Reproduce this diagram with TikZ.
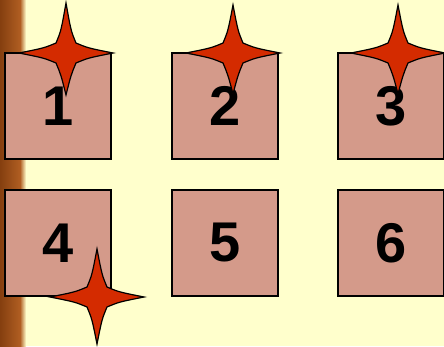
\documentclass[tikz,border=0pt]{standalone}
\usepackage{fontspec}
\setmainfont{Liberation Sans}
\definecolor{bg}{HTML}{FFFFCC}
\definecolor{boxfill}{HTML}{D49A8A}
\definecolor{starred}{HTML}{D42B00}
\definecolor{barbrown}{HTML}{9C4A12}
\definecolor{barlight}{HTML}{B05E22}
\tikzset{
  sq/.style={draw=black, line width=1.3pt, fill=boxfill, minimum width=106pt, minimum height=106pt, inner sep=0pt, font=\fontsize{56}{56}\selectfont\bfseries, anchor=center},
  starshape/.style={draw=black, line width=1.2pt, fill=starred, line join=miter}
}
\newcommand{\fourstar}[5]{% name, x, y, up, down
  \coordinate (#1) at (#2,#3);
  \draw[starshape] ($(#1)+(0,-#4)$) .. controls ($(#1)+(5,-22)$) .. ($(#1)+(10,-10)$)
    .. controls ($(#1)+(22,-5)$) .. ($(#1)+(47,0)$)
    .. controls ($(#1)+(22,5)$) .. ($(#1)+(10,10)$)
    .. controls ($(#1)+(5,22)$) .. ($(#1)+(0,#5)$)
    .. controls ($(#1)+(-5,22)$) .. ($(#1)+(-10,10)$)
    .. controls ($(#1)+(-22,5)$) .. ($(#1)+(-47,0)$)
    .. controls ($(#1)+(-22,-5)$) .. ($(#1)+(-10,-10)$)
    .. controls ($(#1)+(-5,-22)$) .. cycle;
}
\usetikzlibrary{calc}
\begin{document}
\begin{tikzpicture}[x=1pt,y=-1pt]
\useasboundingbox (0,0) rectangle (444,346);
\fill[bg] (0,0) rectangle (444,346);
\shade[left color=barbrown!85!black, right color=barlight] (0,0) rectangle (20,346);
\shade[left color=barlight, right color=bg] (20,0) rectangle (26,346);
\node[sq] (b1) at (58,106) {1};
\node[sq] (b2) at (225,106) {2};
\node[sq] (b3) at (391,106) {3};
\node[sq] (b4) at (58,243) {4};
\node[sq] (b5) at (225,243) {5};
\node[sq] (b6) at (391,243) {6};
\fourstar{s1}{66}{53}{50}{42}
\fourstar{s2}{233}{53}{48}{41}
\fourstar{s3}{398}{53}{48}{41}
\fourstar{s4}{97}{297}{48}{47}
\end{tikzpicture}
\end{document}
